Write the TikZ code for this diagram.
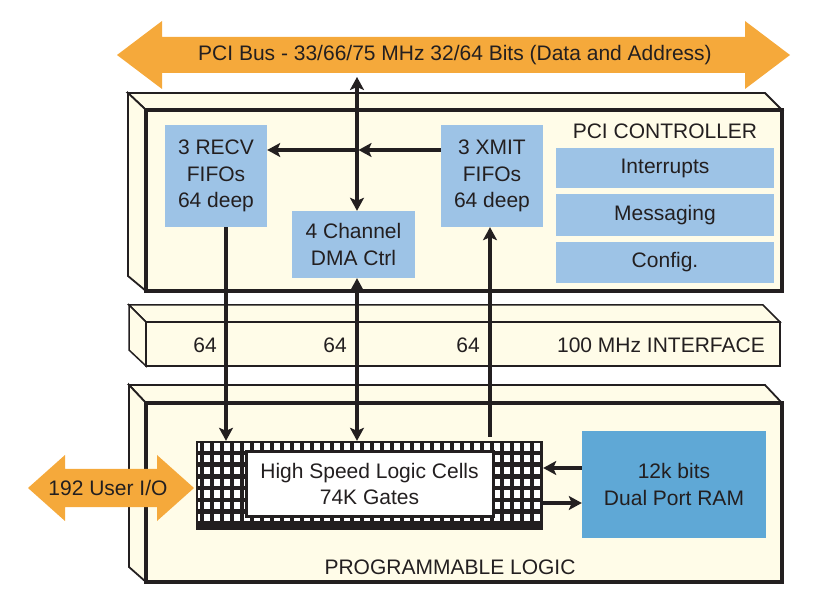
\documentclass[tikz,border=0pt]{standalone}
\usepackage{fontspec}
\setmainfont{Liberation Sans}
\usetikzlibrary{arrows.meta}
\definecolor{cream}{HTML}{FFFCE8}
\definecolor{lblue}{HTML}{9DC3E6}
\definecolor{dblue}{HTML}{5FA8D6}
\definecolor{orng}{HTML}{F5A93B}
\definecolor{ink}{HTML}{231F20}
\begin{document}
\begin{tikzpicture}[x=1pt,y=-1pt,
  txt/.style={font=\fontsize{21}{26.5}\selectfont, text=ink, align=center},
  bbox/.style={txt, fill=lblue, inner sep=0pt},
  conn/.style={draw=ink, line width=3.5pt},
  tip/.style={-{Stealth[length=13pt,width=14pt,inset=3pt]}},
  tips/.style={{Stealth[length=13pt,width=14pt,inset=3pt]}-{Stealth[length=13pt,width=14pt,inset=3pt]}},
  frontface/.style={draw=ink, line width=4pt, fill=cream, inner sep=0pt},
  backface/.style={draw=ink, line width=1.8pt, fill=cream, line join=miter},
  barface/.style={draw=ink, line width=1.5pt, fill=cream, line join=miter},
]
\useasboundingbox (0,0) rectangle (825,609);

% PCI bus arrow
\fill[orng] (117,55) -- (162,21) -- (162,37) -- (745,37) -- (745,21) -- (790,55)
  -- (745,89) -- (745,73) -- (162,73) -- (162,89) -- cycle;
\node[txt] (pcibus) at (455,55) {PCI Bus - 33/66/75 MHz 32/64 Bits (Data and Address)};

% PCI controller block
\draw[backface] (128,93) -- (765,93) -- (782,110) -- (146,110) -- cycle;
\draw[backface] (128,93) -- (146,110) -- (146,291) -- (128,276) -- cycle;
\node[frontface, minimum width=636pt, minimum height=181pt] (ctrl) at (464,200.5) {};
\node[txt, anchor=center] (ctrllabel) at (665,131) {PCI CONTROLLER};

\node[bbox, minimum width=102pt, minimum height=102pt] (recv) at (216,176) {3 RECV\\FIFOs\\64 deep};
\node[bbox, minimum width=102pt, minimum height=102pt] (xmit) at (492,176) {3 XMIT\\FIFOs\\64 deep};
\node[bbox, minimum width=123pt, minimum height=67pt] (dma) at (353.5,244.5) {4 Channel\\DMA Ctrl};
\node[bbox, minimum width=218pt, minimum height=40pt] (intr) at (665,168) {Interrupts};
\node[bbox, minimum width=218pt, minimum height=42pt] (msg) at (665,215) {Messaging};
\node[bbox, minimum width=218pt, minimum height=41pt] (cfg) at (665,262.5) {Config.};

% 100 MHz interface bar
\draw[barface] (129,305) -- (763,305) -- (780,322) -- (146,322) -- cycle;
\draw[barface] (129,305) -- (146,322) -- (146,366) -- (129,350) -- cycle;
\node[barface, inner sep=0pt, minimum width=634pt, minimum height=44pt] (bar) at (463,344) {};
\node[txt, anchor=east, inner sep=0pt] (l64a) at (217,345) {64};
\node[txt, anchor=east, inner sep=0pt] (l64b) at (347,345) {64};
\node[txt, anchor=east, inner sep=0pt] (l64c) at (480,345) {64};
\node[txt, anchor=east, inner sep=0pt] (ifl) at (765,345) {100 MHz INTERFACE};

% Programmable logic block
\draw[backface] (129,385) -- (765,385) -- (782,403) -- (146,403) -- cycle;
\draw[backface] (129,385) -- (146,403) -- (146,582) -- (129,567) -- cycle;
\node[frontface, minimum width=636pt, minimum height=179pt] (plog) at (464,492.5) {};
\node[txt] (plabel) at (450,567) {PROGRAMMABLE LOGIC};

\node[bbox, fill=dblue, minimum width=184pt, minimum height=107pt] (ram) at (674,484.5) {12k bits\\Dual Port RAM};

% logic cell grid
\node[fill=ink, inner sep=0pt, minimum width=347pt, minimum height=89pt] (grid) at (369.5,485.5) {};
\foreach \i in {0,...,33} {
  \foreach \j in {0,...,6} {
    \fill[white] ({203.5+10*\i},{443.5+11.7*\j}) rectangle ++(6.5,7.3);
  }
}
\foreach \j in {0,...,6} {
  \fill[white] (198.3,{443.5+11.7*\j}) rectangle ++(1.6,7.3);
}
\node[txt, fill=white, draw=ink, line width=3pt, inner sep=0pt, minimum width=247pt, minimum height=64pt] (core) at (369.5,484) {High Speed Logic Cells\\74K Gates};

% User I/O arrow
\fill[orng] (28,488) -- (65,455) -- (65,469) -- (157,469) -- (157,455) -- (194,488)
  -- (157,521) -- (157,507) -- (65,507) -- (65,521) -- cycle;
\node[txt] (uio) at (108,488) {192 User I/O};

% connectors
\coordinate (bustip) at (357,77);
\coordinate (cross) at (358.5,150);
\coordinate (xa) at (226,0);
\coordinate (xb) at (490,0);
\coordinate (ya) at (0,468);
\coordinate (yb) at (0,503);

\draw[conn, tips] (bustip) -- (dma.north -| bustip);
\draw[conn, tip] (xmit.west |- cross) -- (cross);
\draw[conn, tip] (cross) -- (recv.east |- cross);
\draw[conn, tip] (recv.south -| xa) -- (grid.north -| xa);
\draw[conn, tips] (dma.south -| bustip) -- (grid.north -| bustip);
\draw[conn, tip] ([yshift=4pt]grid.north -| xb) -- (xmit.south -| xb);
\draw[conn, tip] (ram.west |- ya) -- (grid.east |- ya);
\draw[conn, tip] (grid.east |- yb) -- (ram.west |- yb);
\end{tikzpicture}
\end{document}
